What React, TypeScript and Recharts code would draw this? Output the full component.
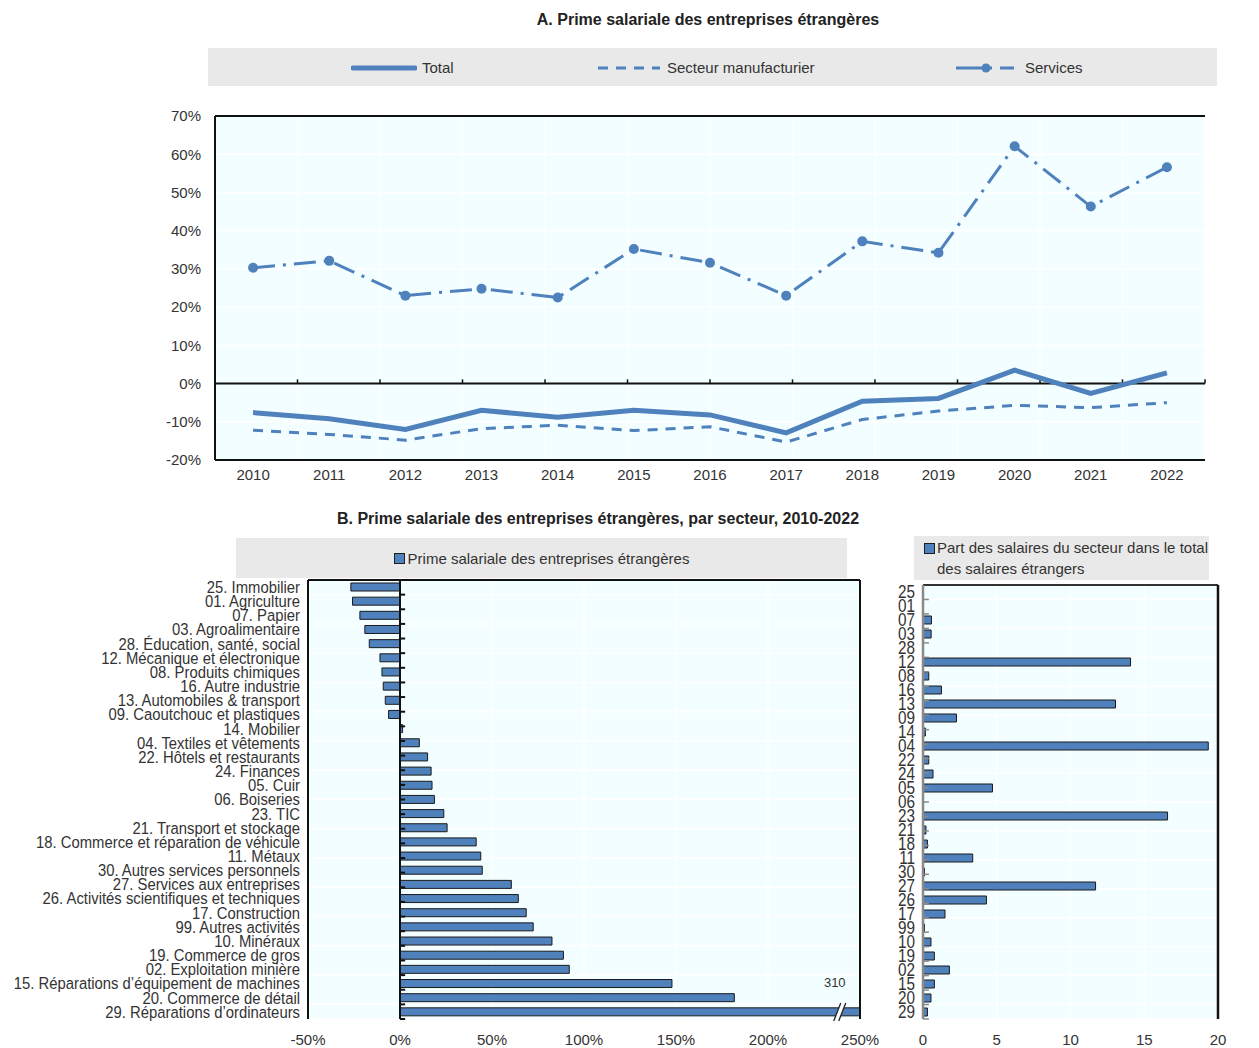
import React from 'react';
import {
  LineChart, Line, XAxis, YAxis, CartesianGrid, ReferenceLine, ReferenceDot, Legend,
  BarChart, Bar,
} from 'recharts';

// ---------- Data: panel A ----------
const years = ['2010', '2011', '2012', '2013', '2014', '2015', '2016', '2017', '2018', '2019', '2020', '2021', '2022'];
const totalPremium = [-7.6, -9.2, -12.0, -7.0, -8.8, -7.0, -8.2, -12.9, -4.6, -3.9, 3.5, -2.6, 2.8];
const manufPremium = [-12.2, -13.3, -14.8, -11.8, -10.9, -12.3, -11.3, -15.3, -9.4, -7.2, -5.7, -6.3, -5.0];
const servicesPremium = [30.3, 32.1, 23.0, 24.8, 22.5, 35.2, 31.6, 23.0, 37.2, 34.2, 62.1, 46.3, 56.6];
const pctTicksA = [-20, -10, 0, 10, 20, 30, 40, 50, 60, 70];

// ---------- Data: panel B ----------
const sectorLabels = [
  '25. Immobilier', '01. Agriculture', '07. Papier', '03. Agroalimentaire', '28. Éducation, santé, social',
  '12. Mécanique et électronique', '08. Produits chimiques', '16. Autre industrie', '13. Automobiles & transport',
  '09. Caoutchouc et plastiques', '14. Mobilier', '04. Textiles et vêtements', '22. Hôtels et restaurants',
  '24. Finances', '05. Cuir', '06. Boiseries', '23. TIC', '21. Transport et stockage',
  '18. Commerce et réparation de véhicule', '11. Métaux', '30. Autres services personnels',
  '27. Services aux entreprises', '26. Activités scientifiques et techniques', '17. Construction',
  '99. Autres activités', '10. Minéraux', '19. Commerce de gros', '02. Exploitation minière',
  '15. Réparations d’équipement de machines', '20. Commerce de détail', '29. Réparations d’ordinateurs',
];
const sectorPremium = [
  -26.7, -25.8, -21.8, -19.1, -16.7, -10.9, -9.8, -9.1, -8.0, -6.2, 1.4, 10.5, 15.0, 16.9, 17.4, 18.7,
  23.8, 25.6, 41.4, 43.9, 44.7, 60.5, 64.3, 68.6, 72.4, 82.6, 88.8, 92.0, 147.8, 181.7, 310,
];
const sectorWageShare = [
  0.03, 0.03, 0.57, 0.55, 0.03, 14.07, 0.39, 1.25, 13.05, 2.27, 0.16, 19.34, 0.39, 0.68, 4.71, 0.02,
  16.58, 0.2, 0.3, 3.37, 0.1, 11.7, 4.3, 1.49, 0.1, 0.54, 0.77, 1.79, 0.77, 0.54, 0.3,
];
const pctTicksB = [-50, 0, 50, 100, 150, 200, 250];
const shareTicksC = [0, 5, 10, 15, 20];
const axisBreakAt = 239;

// ---------- Style ----------
const FONT = "'Liberation Sans Narrow', 'Arial Narrow', 'Liberation Sans', Arial, sans-serif";
const BLUE = '#4F81BD';
const BG = '#F2FEFF';
const TEXT = '#333333';
const LEGEND_BG = '#E9E9E9';

const dataA = years.map((y, i) => ({
  year: y, total: totalPremium[i], manuf: manufPremium[i], services: servicesPremium[i],
}));
const boundaryA = Array.from({ length: years.length + 1 }, (_, i) => i);

const dataB = sectorLabels.map((l, i) => ({ label: l, premium: sectorPremium[i] }));
const dataC = sectorLabels.map((l, i) => ({ code: l.slice(0, 2), share: sectorWageShare[i] }));
const nCat = sectorLabels.length;
const boundaryB = Array.from({ length: nCat + 1 }, (_, i) => i);

const pct = (v: number) => `${v}%`;

const NarrowTick = (props: any) => {
  const { x, y, payload, fs, sx } = props;
  return (
    <g transform={`translate(${x},${y})`}>
      <text transform={`scale(${sx},1)`} x={0} y={0} dy="0.355em" textAnchor="end"
        fontSize={fs} fontFamily={FONT} fill={TEXT}>{payload.value}</text>
    </g>
  );
};

const LegendA = () => (
  <div style={{
    width: 1009, height: 38, background: LEGEND_BG, position: 'relative',
    fontFamily: FONT, fontSize: 15, color: TEXT,
  }}>
    <div style={{ position: 'absolute', left: 143, top: 11, display: 'flex', alignItems: 'center' }}>
      <svg width={66} height={12}><line x1={2} y1={6} x2={64} y2={6} stroke={BLUE} strokeWidth={5} strokeLinecap="round" /></svg>
      <span style={{ marginLeft: 5 }}>Total</span>
    </div>
    <div style={{ position: 'absolute', left: 388, top: 11, display: 'flex', alignItems: 'center' }}>
      <svg width={66} height={12}><line x1={2} y1={6} x2={64} y2={6} stroke={BLUE} strokeWidth={3} strokeDasharray="10 8" /></svg>
      <span style={{ marginLeft: 5 }}>Secteur manufacturier</span>
    </div>
    <div style={{ position: 'absolute', left: 746, top: 11, display: 'flex', alignItems: 'center' }}>
      <svg width={66} height={12}>
        <line x1={2} y1={6} x2={64} y2={6} stroke={BLUE} strokeWidth={3} strokeDasharray="28 6 2 8 14" />
        <circle cx={32} cy={6} r={4.5} fill={BLUE} />
      </svg>
      <span style={{ marginLeft: 5 }}>Services</span>
    </div>
  </div>
);

const LegendB = () => (
  <div style={{
    width: 611, height: 40, background: LEGEND_BG, display: 'flex', alignItems: 'center',
    justifyContent: 'center', fontFamily: FONT, fontSize: 15, color: TEXT,
  }}>
    <span style={{ width: 9, height: 9, background: BLUE, border: '1px solid #1f1f1f', marginRight: 3, display: 'inline-block' }} />
    <span>Prime salariale des entreprises étrangères</span>
  </div>
);

const LegendC = () => (
  <div style={{
    width: 295, height: 44, background: LEGEND_BG, position: 'relative',
    fontFamily: FONT, fontSize: 15, color: TEXT, lineHeight: '21px',
  }}>
    <span style={{ position: 'absolute', left: 10, top: 7, width: 9, height: 9, background: BLUE, border: '1px solid #1f1f1f' }} />
    <div style={{ position: 'absolute', left: 23, top: 1, whiteSpace: 'nowrap' }}>Part des salaires du secteur dans le total</div>
    <div style={{ position: 'absolute', left: 23, top: 22, whiteSpace: 'nowrap' }}>des salaires étrangers</div>
  </div>
);

const BreakMark = (props: any) => {
  const { cx, cy } = props;
  return (
    <g>
      <polygon points={`${cx - 6},${cy + 9} ${cx - 1},${cy + 9} ${cx + 6},${cy - 9} ${cx + 1},${cy - 9}`} fill="#ffffff" />
      <line x1={cx - 6} y1={cy + 9} x2={cx + 1} y2={cy - 9} stroke="#222" strokeWidth={1.3} />
      <line x1={cx - 1} y1={cy + 9} x2={cx + 6} y2={cy - 9} stroke="#222" strokeWidth={1.3} />
      <text x={cx - 5} y={cy - 25} textAnchor="middle" fontFamily={FONT} fontSize={13} fill={TEXT}>
        {sectorPremium[sectorPremium.length - 1]}
      </text>
    </g>
  );
};

const tickStyle = { fill: TEXT, fontSize: 15, fontFamily: FONT };
const BORDER = '#111';

export default function App() {
  return (
    <div style={{ position: 'absolute', left: 0, top: 0, width: 1259, height: 1048, background: '#fff', fontFamily: FONT, overflow: 'hidden' }}>
      <div style={{
        position: 'absolute', left: 408, top: 11, width: 600, textAlign: 'center',
        fontWeight: 'bold', fontSize: 16, color: '#222', fontFamily: FONT,
      }}>A. Prime salariale des entreprises étrangères</div>

      <div style={{ position: 'absolute', left: 0, top: 0 }}>
        <LineChart width={1259} height={490} data={dataA} margin={{ top: 116, right: 0, bottom: 0, left: 0 }}>
          <CartesianGrid xAxisId="num" yAxisId="left" stroke="#ffffff" strokeWidth={1.5} fill={BG} fillOpacity={1} />
          <XAxis dataKey="year" scale="band" interval={0} tickLine={false} axisLine={false} tickMargin={3} height={30} tick={tickStyle} />
          <XAxis xAxisId="num" type="number" domain={[0, years.length]} ticks={boundaryA} hide />
          <YAxis yAxisId="left" type="number" domain={[-20, 70]} ticks={pctTicksA} tickFormatter={pct}
            width={215} tickLine={false} axisLine={false} tickMargin={8} tick={tickStyle} />
          <YAxis yAxisId="right" orientation="right" type="number" domain={[-20, 70]} ticks={pctTicksA} tickFormatter={pct}
            width={54} tickLine={false} axisLine={false} tickMargin={11} tick={tickStyle} />
          <ReferenceLine yAxisId="left" y={0} stroke={BORDER} strokeWidth={2} />
          {boundaryA.slice(1, -1).map((b) => (
            <ReferenceLine key={b} xAxisId="num" yAxisId="left" segment={[{ x: b, y: 0 }, { x: b, y: 1.1 }]} stroke={BORDER} strokeWidth={1.5} />
          ))}
          <ReferenceLine yAxisId="left" y={70} stroke={BORDER} strokeWidth={2} />
          <ReferenceLine yAxisId="left" y={-20} stroke={BORDER} strokeWidth={2} />
          <ReferenceLine xAxisId="num" yAxisId="left" x={0} stroke={BORDER} strokeWidth={2} />
          <ReferenceLine xAxisId="num" yAxisId="left" x={years.length} stroke={BORDER} strokeWidth={2} />
          <Line yAxisId="left" dataKey="total" stroke={BLUE} strokeWidth={5} dot={false} isAnimationActive={false} />
          <Line yAxisId="left" dataKey="manuf" stroke={BLUE} strokeWidth={3} strokeDasharray="10 8" dot={false} isAnimationActive={false} />
          <Line yAxisId="left" dataKey="services" stroke={BLUE} strokeWidth={3} strokeDasharray="22 8 3 8"
            dot={{ r: 5, fill: BLUE, strokeWidth: 0 }} isAnimationActive={false} />
          <Legend verticalAlign="middle" align="center" layout="horizontal" content={() => <LegendA />}
            wrapperStyle={{ left: 208, top: 48, width: 1009, height: 38 }} />
        </LineChart>
      </div>

      <div style={{
        position: 'absolute', left: 298, top: 510, width: 600, textAlign: 'center',
        fontWeight: 'bold', fontSize: 16, color: '#222', fontFamily: FONT,
      }}>B. Prime salariale des entreprises étrangères, par secteur, 2010-2022</div>

      <div style={{ position: 'absolute', left: 0, top: 500 }}>
        <BarChart layout="vertical" width={880} height={548} data={dataB} margin={{ top: 80, right: 20, bottom: 0, left: 0 }} barSize={8}>
          <CartesianGrid yAxisId="num" stroke="#ffffff" strokeWidth={1.5} fill={BG} fillOpacity={1} />
          <XAxis type="number" domain={[-50, 250]} ticks={pctTicksB} tickFormatter={pct} allowDataOverflow
            tickLine={false} axisLine={false} tickMargin={9} height={29} tick={tickStyle} />
          <YAxis type="category" dataKey="label" width={308} interval={0} tickLine={false} axisLine={false}
            tick={(p: any) => <NarrowTick {...p} fs={16.5} sx={0.9} />} />
          <YAxis yAxisId="num" type="number" domain={[0, nCat]} ticks={boundaryB} hide />
          <Bar dataKey="premium" fill={BLUE} stroke="#1a1a1a" strokeWidth={1} isAnimationActive={false} />
          <ReferenceLine x={0} stroke={BORDER} strokeWidth={2} />
          {boundaryB.slice(1, -1).map((b) => (
            <ReferenceLine key={b} yAxisId="num" segment={[{ x: 0, y: b }, { x: 2.8, y: b }]} stroke={BORDER} strokeWidth={2} />
          ))}
          <ReferenceLine yAxisId="num" y={0} stroke={BORDER} strokeWidth={2} />
          <ReferenceLine yAxisId="num" y={nCat} stroke={BORDER} strokeWidth={2} />
          <ReferenceLine x={-50} stroke={BORDER} strokeWidth={2} />
          <ReferenceLine x={250} stroke={BORDER} strokeWidth={2} />
          <ReferenceDot x={axisBreakAt} y={sectorLabels[nCat - 1]} shape={BreakMark} ifOverflow="visible" />
          <Legend verticalAlign="middle" align="center" layout="horizontal" content={() => <LegendB />}
            wrapperStyle={{ left: 236, top: 38, width: 611, height: 40 }} />
        </BarChart>
      </div>

      <div style={{ position: 'absolute', left: 880, top: 500 }}>
        <BarChart layout="vertical" width={379} height={548} data={dataC} margin={{ top: 85, right: 41, bottom: 0, left: 0 }} barSize={8}>
          <CartesianGrid yAxisId="num" stroke="#ffffff" strokeWidth={1.5} fill={BG} fillOpacity={1} />
          <XAxis type="number" domain={[0, 20]} ticks={shareTicksC} tickLine={false} axisLine={false} tickMargin={9} height={29} tick={tickStyle} />
          <YAxis type="category" dataKey="code" width={43} interval={0} tickLine={false} axisLine={false}
            tick={(p: any) => <NarrowTick {...p} fs={18} sx={0.85} />} />
          <YAxis yAxisId="num" type="number" domain={[0, nCat]} ticks={boundaryB} hide />
          <Bar dataKey="share" fill={BLUE} stroke="#1a1a1a" strokeWidth={1} isAnimationActive={false} />
          <ReferenceLine yAxisId="num" y={0} stroke="#333" strokeWidth={2} />
          <ReferenceLine yAxisId="num" y={nCat} stroke={BORDER} strokeWidth={2.5} />
          <ReferenceLine x={20} stroke={BORDER} strokeWidth={2.5} />
          <ReferenceLine x={0} stroke="#8a8a8a" strokeWidth={2.5} />
          {boundaryB.slice(1, -1).map((b) => (
            <ReferenceLine key={b} yAxisId="num" segment={[{ x: 0, y: b }, { x: 0.4, y: b }]} stroke="#8a8a8a" strokeWidth={1.5} />
          ))}
          <Legend verticalAlign="middle" align="center" layout="horizontal" content={() => <LegendC />}
            wrapperStyle={{ left: 34, top: 36, width: 295, height: 44 }} />
        </BarChart>
      </div>
    </div>
  );
}
